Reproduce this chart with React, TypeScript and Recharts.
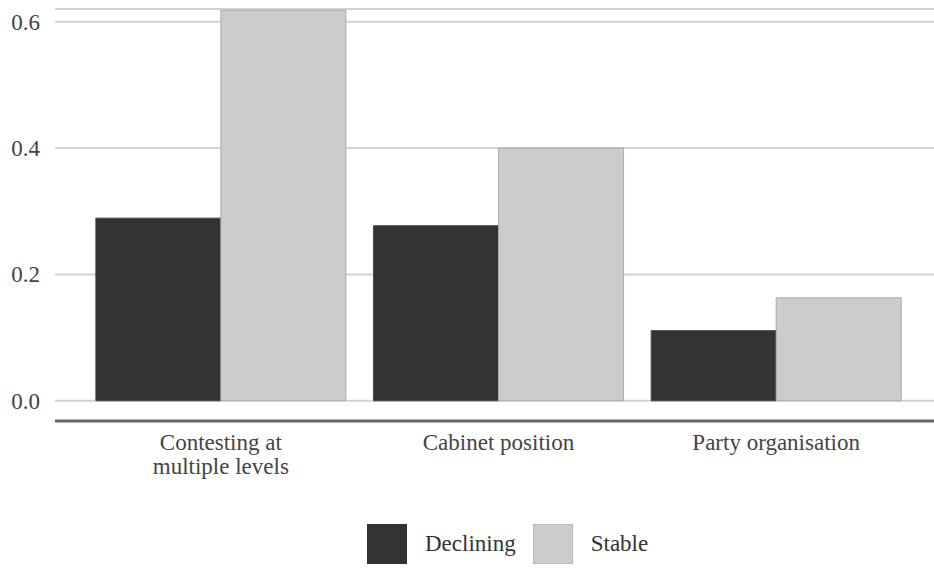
import React from 'react';
import { BarChart, Bar, XAxis, YAxis, CartesianGrid, Legend } from 'recharts';

const categories = ['Contesting at multiple levels', 'Cabinet position', 'Party organisation'];
const categoryLines = [['Contesting at', 'multiple levels'], ['Cabinet position'], ['Party organisation']];
const declining = [0.289, 0.277, 0.111];
const stable = [0.618, 0.4, 0.163];
const yTicks = [0, 0.2, 0.4, 0.6];
const yTickLabels = ['0.0', '0.2', '0.4', '0.6'];
const seriesNames = ['Declining', 'Stable'];
const seriesColors = ['#333333', '#cccccc'];

const data = categories.map((c, i) => ({ name: c, idx: i, Declining: declining[i], Stable: stable[i] }));

const FONT = "'Liberation Serif', Tinos, 'DejaVu Serif', 'Noto Serif', serif";

const XTick = (props: any) => {
  const { x, y, payload } = props;
  const idx = categories.indexOf(payload.value);
  const lines = idx >= 0 ? categoryLines[idx] : [String(payload.value)];
  return (
    <text x={x} y={y} textAnchor="middle" fill="#444" style={{ fontFamily: FONT, fontSize: 23 }}>
      {lines.map((l, i) => (
        <tspan key={i} x={x} dy={i === 0 ? 29 : 24}>{l}</tspan>
      ))}
    </text>
  );
};

const YTick = (props: any) => {
  const { x, y, payload } = props;
  const i = yTicks.indexOf(payload.value);
  return (
    <text x={x} y={y} dy={8} textAnchor="end" fill="#444" style={{ fontFamily: FONT, fontSize: 23 }}>
      {i >= 0 ? yTickLabels[i] : payload.value}
    </text>
  );
};

const LegendContent = () => (
  <div style={{ display: 'flex', justifyContent: 'flex-start', alignItems: 'center', height: 48, paddingLeft: 367, fontFamily: FONT, fontSize: 23, color: '#333' }}>
    {seriesNames.map((n, i) => (
      <div key={n} style={{ display: 'flex', alignItems: 'center', marginLeft: i === 0 ? 0 : 17 }}>
        <div style={{ width: 40, height: 40, background: seriesColors[i], boxSizing: 'border-box', border: i === 1 ? '1px solid #bbb' : 'none' }} />
        <span style={{ marginLeft: 18 }}>{n}</span>
      </div>
    ))}
  </div>
);

export default function App() {
  return (
    <div style={{ position: 'absolute', left: 0, top: 0, width: 934, height: 568, background: '#fff', fontFamily: FONT }}>
      <BarChart
        width={934}
        height={568}
        data={data}
        margin={{ top: 9, right: 0, left: 0, bottom: 0 }}
        barCategoryGap="5%"
        barGap={0}
      >
        <CartesianGrid vertical={false} stroke="#d2d2d2" strokeWidth={2} />
        <XAxis
          dataKey="name"
          interval={0}
          padding={{ left: 27, right: 19 }}
          axisLine={{ stroke: '#666', strokeWidth: 3 }}
          tickLine={false}
          tickSize={0}
          tickMargin={0}
          height={99}
          tick={<XTick />}
        />
        <YAxis
          type="number"
          domain={[-0.032, 0.62]}
          ticks={yTicks}
          allowDataOverflow
          width={55}
          axisLine={false}
          tickLine={false}
          tickSize={0}
          tickMargin={15}
          tick={<YTick />}
        />
        <Legend verticalAlign="bottom" height={48} wrapperStyle={{ left: 0, width: 934 }} content={<LegendContent />} />
        <Bar dataKey="Declining" fill={seriesColors[0]} stroke="#444" strokeWidth={1} isAnimationActive={false} />
        <Bar dataKey="Stable" fill={seriesColors[1]} stroke="#aaa" strokeWidth={1} isAnimationActive={false} />
      </BarChart>
    </div>
  );
}
